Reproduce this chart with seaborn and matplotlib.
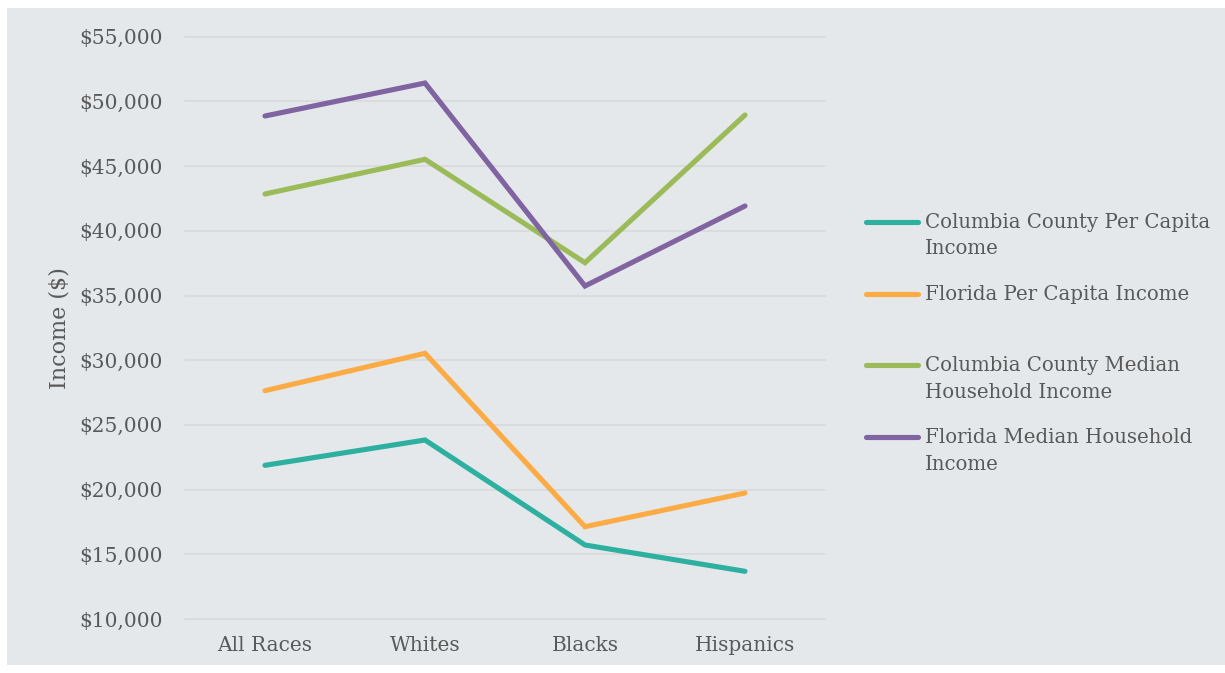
import matplotlib
matplotlib.use("Agg")
import matplotlib.pyplot as plt
from matplotlib.lines import Line2D
from matplotlib.patches import Rectangle
from matplotlib.ticker import FuncFormatter, MultipleLocator
import seaborn as sns
import pandas as pd

# Income by race group
groups = ["All Races", "Whites", "Blacks", "Hispanics"]
columbia_per_capita = [21876, 23833, 15718, 13685]
florida_per_capita = [27643, 30533, 17133, 19737]
columbia_median_household = [42844, 45525, 37535, 48949]
florida_median_household = [48872, 51420, 35734, 41917]

series_names = [
    "Columbia County Per Capita\nIncome",
    "Florida Per Capita Income",
    "Columbia County Median\nHousehold Income",
    "Florida Median Household\nIncome",
]
series_values = [
    columbia_per_capita,
    florida_per_capita,
    columbia_median_household,
    florida_median_household,
]
colors = ["#2EB0A0", "#FDAC45", "#9BBB59", "#8064A2"]

rows = []
for name, vals in zip(series_names, series_values):
    for g, v in zip(groups, vals):
        rows.append({"Group": g, "Income": v, "Series": name})
df = pd.DataFrame(rows)

bg = "#E4E8EB"
text_color = "#595959"
sns.set_theme(style="white")
plt.rcParams["font.family"] = ["DejaVu Serif"]

W, H = 1225, 673
fig = plt.figure(figsize=(W / 100, H / 100), dpi=100, facecolor="white")
fig.add_artist(Rectangle((7 / W, 1 - 665 / H), (W - 7) / W, (665 - 8) / H,
                         transform=fig.transFigure, facecolor=bg,
                         edgecolor="none", zorder=-10))

ax = fig.add_axes([185 / W, 1 - 619 / H, 640 / W, (619 - 36.7) / H])
ax.set_facecolor(bg)

sns.lineplot(data=df, x="Group", y="Income", hue="Series",
             hue_order=series_names, palette=colors, sort=False,
             linewidth=3.7, legend=False, ax=ax,
             solid_capstyle="round", solid_joinstyle="miter")

ax.set_xlim(-0.5, len(groups) - 0.5)
ax.set_ylim(10000, 55000)
ax.yaxis.set_major_locator(MultipleLocator(5000))
ax.yaxis.set_major_formatter(FuncFormatter(lambda v, _: f"${v:,.0f}"))
ax.grid(axis="y", color="#D7D9DB", linewidth=1.2)
ax.grid(axis="x", visible=False)
for gl in ax.get_ygridlines():
    gl.set_clip_on(False)
ax.set_axisbelow(True)
for s in ax.spines.values():
    s.set_visible(False)
ax.tick_params(axis="y", length=0, pad=16, labelsize=14.5, labelcolor=text_color)
ax.tick_params(axis="x", length=0, pad=12, labelsize=14.5, labelcolor=text_color)
ax.set_xlabel("")
ax.set_ylabel("Income ($)", fontsize=16, color=text_color, labelpad=6)

# Legend: one line sample and label per series, first line aligned with the sample
entry_y = [222, 294, 365, 437]
for name, c, y in zip(series_names, colors, entry_y):
    fig.add_artist(Line2D([866 / W, 918 / W], [1 - y / H, 1 - y / H],
                          transform=fig.transFigure, color=c, linewidth=3.7,
                          solid_capstyle="round"))
    fig.text(925 / W, 1 - (y - 9) / H, name, transform=fig.transFigure,
             ha="left", va="top", fontsize=14.2, color=text_color,
             linespacing=1.5)

fig.savefig("out.png", dpi=100, facecolor="white")
